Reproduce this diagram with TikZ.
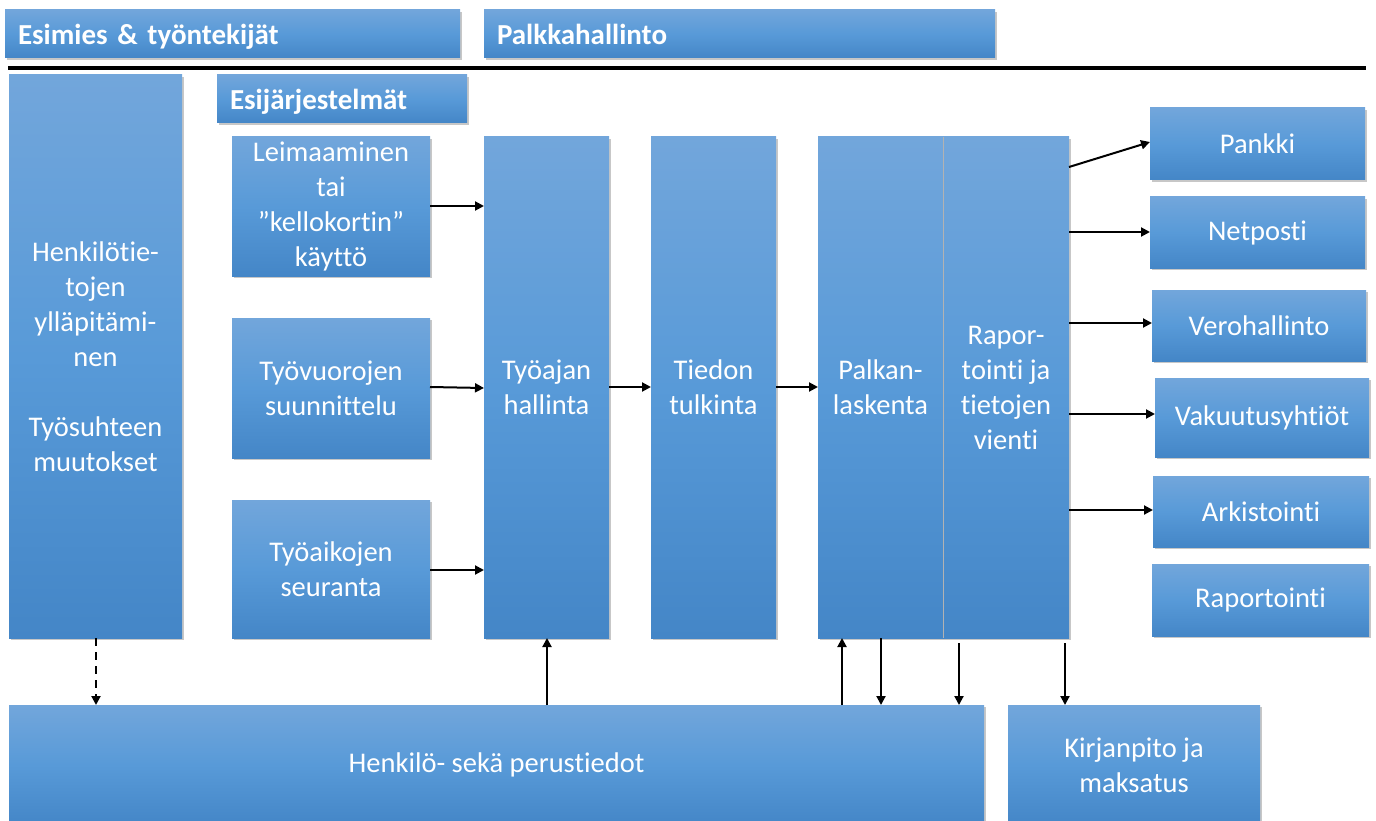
\documentclass[tikz,border=0pt]{standalone}
\usepackage{fontspec}
\setmainfont{Carlito}[Ligatures={NoCommon}]
\usetikzlibrary{arrows.meta,shadows}
\definecolor{btop}{RGB}{114,166,219}
\definecolor{bmid}{RGB}{88,154,216}
\definecolor{bbot}{RGB}{68,134,199}
\tikzset{
  box/.style={anchor=north west, inner sep=0pt, outer sep=0pt,
    top color=btop, bottom color=bbot, middle color=bmid,
    text=white, align=center,
    font=\fontsize{28.5}{35}\selectfont,
    drop shadow={shadow xshift=2pt, shadow yshift=-2pt, opacity=0.22, fill=black}},
  hdr/.style={box, font=\fontsize{29}{32}\selectfont\bfseries, text width=#1, align=left,
    text height=26pt, text depth=4pt},
  arr/.style={-{Triangle[length=9pt,width=9pt]}, line width=2pt, black},
}
\begin{document}
\begin{tikzpicture}[x=1pt,y=-1pt]
\useasboundingbox (0,0) rectangle (1376,821);
% headers
\node[hdr=429pt, minimum width=455pt, minimum height=48pt] (esimies) at (5,10) {Esimies \& työntekijät};
\node[hdr=485pt, minimum width=511pt, minimum height=48pt] (palkka) at (484,10) {Palkkahallinto};
\draw[line width=4pt] (8,68) -- (1366,68);
\node[hdr=224pt, minimum width=250pt, minimum height=48pt] (esij) at (217,75) {Esijärjestelmät};
% left tall
\node[box, minimum width=173pt, minimum height=563pt] (henk) at (9,75) {Henkilötie-\\tojen\\ylläpitämi-\\nen\\[35pt]Työsuhteen\\muutokset};
% pre systems
\node[box, minimum width=198pt, minimum height=139pt] (leima) at (232,137) {Leimaaminen\\tai\\”kellokortin”\\käyttö};
\node[box, minimum width=198pt, minimum height=140pt] (vuoro) at (232,318) {Työvuorojen\\suunnittelu};
\node[box, minimum width=198pt, minimum height=138pt] (seur) at (232,500) {Työaikojen\\seuranta};
% columns
\node[box, minimum width=125pt, minimum height=501pt] (tyoaika) at (484,137) {Työajan\\hallinta};
\node[box, minimum width=125pt, minimum height=501pt] (tiedon) at (651,137) {Tiedon\\tulkinta};
\node[box, minimum width=125pt, minimum height=501pt] (palkan) at (818,137) {Palkan-\\laskenta};
\node[box, minimum width=126pt, minimum height=501pt] (rap) at (943,137) {Rapor-\\tointi ja\\tietojen\\vienti};
\draw[black!30, line width=1pt] (palkan.north east) -- (palkan.south east);
% right outputs
\node[box, minimum width=215pt, minimum height=72pt] (pankki) at (1150,108) {Pankki};
\node[box, minimum width=215pt, minimum height=71pt] (netposti) at (1150,197) {Netposti};
\node[box, minimum width=214pt, minimum height=71pt] (vero) at (1152,290) {Verohallinto};
\node[box, minimum width=214pt, minimum height=79pt] (vakuutus) at (1155,378) {Vakuutusyhtiöt};
\node[box, minimum width=216pt, minimum height=71pt] (arkisto) at (1153,476) {Arkistointi};
\node[box, minimum width=217pt, minimum height=72pt] (raport) at (1152,564) {Raportointi};
% bottom
\node[box, minimum width=975pt, minimum height=120pt] (perus) at (9,705) {Henkilö- sekä perustiedot};
\node[box, minimum width=252pt, minimum height=120pt] (kirjan) at (1008,705) {Kirjanpito ja\\maksatus};
% arrows
\draw[arr] (leima.east |- 0,206) -- (tyoaika.west |- 0,206);
\draw[arr] (vuoro.east |- 0,387) -- (tyoaika.west |- 0,388);
\draw[arr] (seur.east |- 0,570) -- (tyoaika.west |- 0,570);
\draw[arr] (tyoaika.east |- 0,387) -- (tiedon.west |- 0,387);
\draw[arr] (tiedon.east |- 0,387) -- (palkan.west |- 0,387);
\draw[arr] (rap.east |- 0,167) -- (pankki.west |- 0,142);
\draw[arr] (rap.east |- 0,232) -- (netposti.west |- 0,232);
\draw[arr] (rap.east |- 0,323) -- (vero.west |- 0,323);
\draw[arr] (rap.east |- 0,414) -- (vakuutus.west |- 0,414);
\draw[arr] (rap.east |- 0,510) -- (arkisto.west |- 0,510);
\draw[arr, dash pattern=on 8pt off 6pt] (henk.south -| 96,0) -- (perus.north -| 96,0);
\draw[arr] (perus.north -| 547,0) -- (tyoaika.south -| 547,0);
\draw[arr] (perus.north -| 842,0) -- (palkan.south -| 842,0);
\draw[arr] (palkan.south -| 881,0) -- (perus.north -| 881,0);
\draw[arr] (959,643) -- (perus.north -| 959,0);
\draw[arr] (1065,643) -- (kirjan.north -| 1065,0);
\end{tikzpicture}
\end{document}
